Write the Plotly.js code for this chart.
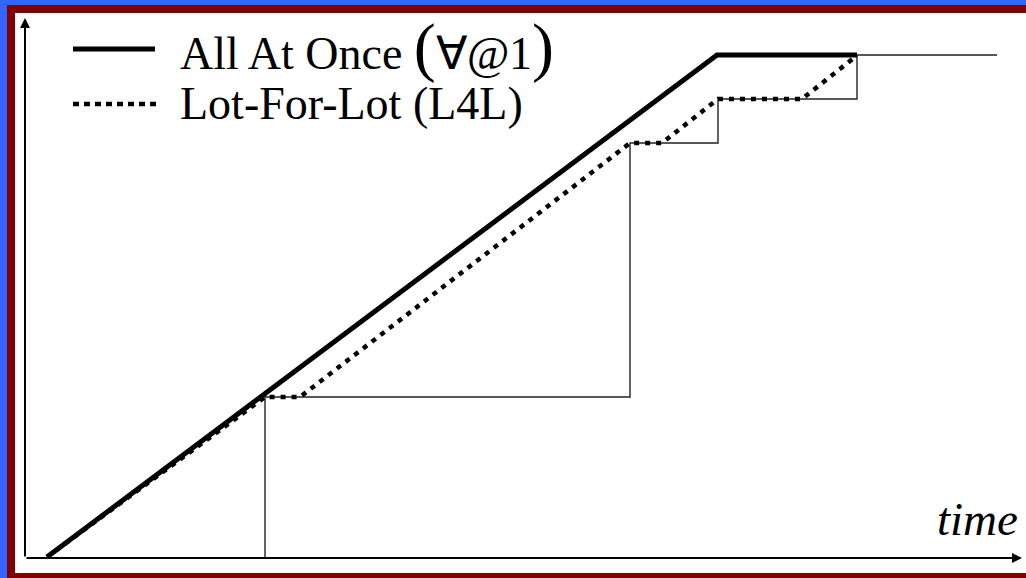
<!DOCTYPE html>
<html>
<head>
<meta charset="utf-8">
<script src="https://cdn.plot.ly/plotly-3.0.1.min.js"></script>
<style>html,body{margin:0;padding:0;background:#fff;overflow:hidden;}#chart{width:1026px;height:578px;}</style>
</head>
<body>
<div id="chart"></div>
<script>
// ---- data (time units, cumulative quantity units) ----
var allAtOnceTime = [0, 670, 810];
var allAtOnceQty  = [0, 502, 502];

var lotForLotTime = [0, 218, 253, 583, 615, 671, 755, 808];
var lotForLotQty  = [0, 160, 160, 414, 414, 458, 458, 500];

var guideTime = [218, 218, 583, 583, 671, 671, 810, 810, 950];
var guideQty  = [-1, 160, 160, 414, 414, 458, 458, 502, 502];

var legendLabels = ["All At Once ", "Lot-For-Lot (L4L)"];
var axisLabel = "time";

// ---- helpers for decoration (pixel -> paper) ----
var W = 1026, H = 578;
function px(x) { return x / W; }
function py(y) { return 1 - y / H; }

var serif = "Liberation Serif";
var BLUE = '#3366ff', RED = '#800000';

function band(x0, y0, x1, y1, color) {
  return { type: 'rect', xref: 'paper', yref: 'paper', layer: 'below',
    x0: px(x0), x1: px(x1), y0: py(y0), y1: py(y1),
    fillcolor: color, line: { width: 0 } };
}

var traces = [
  { x: guideTime, y: guideQty, mode: 'lines', hoverinfo: 'skip', showlegend: false,
    line: { color: '#222', width: 1.4 } },
  { x: lotForLotTime, y: lotForLotQty, mode: 'lines', showlegend: false, name: legendLabels[1],
    line: { color: '#000', width: 4.5, dash: '5px,6px' } },
  { x: allAtOnceTime, y: allAtOnceQty, mode: 'lines', showlegend: false, name: legendLabels[0],
    line: { color: '#000', width: 5 } }
];

var layout = {
  width: W, height: H,
  margin: { l: 0, r: 0, t: 0, b: 0, pad: 0 },
  paper_bgcolor: '#ffffff',
  plot_bgcolor: 'rgba(0,0,0,0)',
  showlegend: false,
  xaxis: { range: [-47, 979], visible: false, fixedrange: true },
  yaxis: { range: [-21, 557], visible: false, fixedrange: true },
  shapes: [
    band(0, 0, 7, 578, BLUE),
    band(0, 0, 1026, 5, BLUE),
    band(7, 5, 1026, 13, RED),
    band(7, 5, 15, 578, RED),
    band(7, 573, 1026, 578, RED),
    { type: 'line', xref: 'paper', yref: 'paper',
      x0: px(73), x1: px(155), y0: py(49), y1: py(49),
      line: { color: '#000', width: 5 } },
    { type: 'line', xref: 'paper', yref: 'paper',
      x0: px(73), x1: px(157), y0: py(104), y1: py(104),
      line: { color: '#000', width: 4.5, dash: '6px,5px' } }
  ],
  annotations: [
    // x axis with arrow
    { x: 975, y: -1, xref: 'x', yref: 'y', ax: -22, ay: -1, axref: 'x', ayref: 'y',
      text: '', showarrow: true, arrowhead: 2, arrowsize: 1, arrowwidth: 2, arrowcolor: '#000' },
    // y axis with arrow
    { x: -22, y: 539, xref: 'x', yref: 'y', ax: -22, ay: -1, axref: 'x', ayref: 'y',
      text: '', showarrow: true, arrowhead: 2, arrowsize: 1, arrowwidth: 2, arrowcolor: '#000' },
    { x: px(178), y: py(47), xref: 'paper', yref: 'paper', xanchor: 'left', yanchor: 'middle',
      showarrow: false,
      text: legendLabels[0] + '<span style="font-size:66px">(</span>∀<i>@</i>1<span style="font-size:66px">)</span>',
      font: { family: serif, size: 46, color: '#000' } },
    { x: px(178), y: py(104), xref: 'paper', yref: 'paper', xanchor: 'left', yanchor: 'middle',
      showarrow: false, text: legendLabels[1],
      font: { family: serif, size: 46, color: '#000' } },
    { x: px(1020), y: py(519), xref: 'paper', yref: 'paper', xanchor: 'right', yanchor: 'middle',
      showarrow: false, text: '<i>' + axisLabel + '</i>',
      font: { family: serif, size: 47, color: '#000' } }
  ]
};

Plotly.newPlot('chart', traces, layout, { staticPlot: true, displayModeBar: false });
</script>
</body>
</html>
